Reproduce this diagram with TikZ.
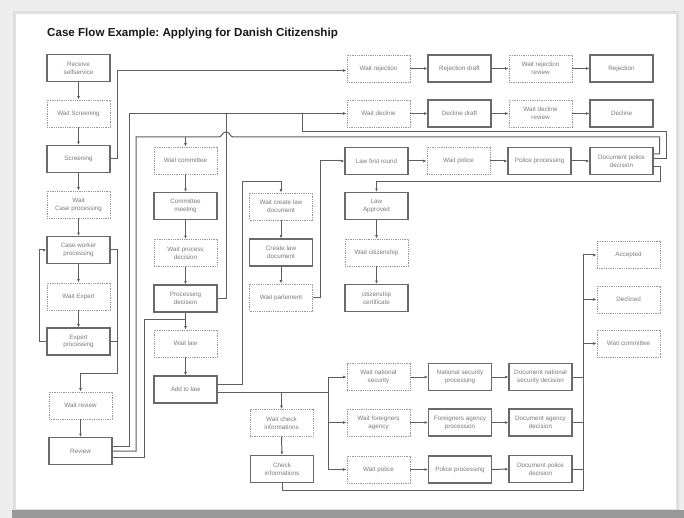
\documentclass[tikz,border=0pt]{standalone}
\usepackage{fontspec}
\setmainfont{Liberation Sans}
\frenchspacing
\usetikzlibrary{arrows.meta,calc}
\definecolor{boxc}{HTML}{6A6A6A}
\definecolor{dashc}{HTML}{969696}
\definecolor{txtc}{HTML}{7A7A7A}
\definecolor{linec}{HTML}{5E5E5E}
\definecolor{bgc}{HTML}{EDEDED}
\tikzset{
  box/.style={draw=boxc, line width=1.05pt, minimum width=63pt, minimum height=27pt, inner sep=1pt, align=center, text=txtc, font=\fontsize{6.3}{7.8}\selectfont},
  dbox/.style={box, draw=dashc, line width=0.85pt, dash pattern=on 0.9pt off 0.9pt},
  conn/.style={draw=linec, line width=1pt},
  arr/.style={conn, -{Latex[length=3.4pt,width=2.8pt]}},
}
\begin{document}
\begin{tikzpicture}[x=1pt,y=-1pt]
\useasboundingbox (0,0) rectangle (684,518);
% paper
\fill[bgc] (0,0) rectangle (684,518);
\fill[gray!25] (13,11) rectangle (679,512);
\fill[white] (16,14) rectangle (676,509);
\fill[gray!80] (12,510) rectangle (684,518);
\node[anchor=base west, font=\bfseries\fontsize{11.6}{13}\selectfont, text=black!90, inner sep=0] (title) at (47,37) {Case Flow Example: Applying for Danish Citizenship};

% column 1
\node[box]  (rs)   at (78.5,68)    {Receive\\selfservice};
\node[dbox] (wscr) at (78.5,113.5) {Wait Screening};
\node[box]  (scr)  at (78.5,159)   {Screening};
\node[dbox] (wcp)  at (78.5,204.5) {Wait\\Case processing};
\node[box]  (cwp)  at (78.5,250)   {Case worker\\processing};
\node[dbox] (wexp) at (78.5,296.5) {Wait Expert};
\node[box]  (exp)  at (78.5,341.5) {Expert\\processing};
\node[dbox] (wrev) at (80.5,405.5) {Wait review};
\node[box]  (rev)  at (80.5,451)   {Review};

% column 2
\node[dbox] (wcom) at (185.5,160.5) {Wait committee};
\node[box]  (cm)   at (185.5,206)   {Committee\\meeting};
\node[dbox] (wpd)  at (185.5,253)   {Wait process\\decision};
\node[box]  (pd)   at (185.5,298.5) {Processing\\decision};
\node[dbox] (wlaw) at (185.5,343.5) {Wait law};
\node[box]  (atl)  at (185.5,389.5) {Add to law};

% column 3
\node[dbox] (wcld)  at (281,206.5) {Wait create law\\document};
\node[box]  (cld)   at (281,252.5) {Create law\\document};
\node[dbox] (wparl) at (281,297.5) {Wait parlement};

% column 4
\node[box]  (lfr)   at (376.5,161)   {Law first round};
\node[box]  (lapp)  at (376.5,206)   {Law\\Approved};
\node[dbox] (wcit)  at (376.5,252.5) {Wait citizenship};
\node[box]  (ccert) at (376.5,298)   {citizenship\\certificate};

% top rows
\node[dbox] (wrej)  at (378.5,68.5) {Wait rejection};
\node[box]  (rejd)  at (459.5,68.5) {Rejection draft};
\node[dbox] (wrejr) at (540.5,68.5) {Wait rejection\\review};
\node[box]  (rej)   at (621.5,68.5) {Rejection};
\node[dbox] (wdec)  at (378.5,113.5) {Wait decline};
\node[box]  (decd)  at (459.5,113.5) {Decline draft};
\node[dbox] (wdecr) at (540.5,113.5) {Wait decline\\review};
\node[box]  (dec)   at (621.5,113.5) {Decline};
\node[dbox] (wpol)  at (458.5,161) {Wait police};
\node[box]  (ppr)   at (539.5,161) {Police processing};
\node[box]  (dpd)   at (621.5,161) {Document police\\decision};

% right column
\node[dbox] (acc)   at (628.5,255)   {Accepted};
\node[dbox] (decl)  at (628.5,299.5) {Declined};
\node[dbox] (wcom2) at (628.5,343.5) {Wait committee};

% bottom block
\node[dbox] (wci)   at (281.5,423)   {Wait check\\informations};
\node[box]  (ci)    at (282,469)     {Check\\informations};
\node[dbox] (wns)   at (378.5,377)   {Wait national\\security};
\node[dbox] (wfa)   at (378.5,422.5) {Wait foreigners\\agency};
\node[dbox] (wpol2) at (378.5,469.5) {Wait police};
\node[box]  (nsp)   at (460,377)     {National security\\processing};
\node[box]  (fap)   at (460,422.5)   {Foreigners agency\\procession};
\node[box]  (ppr2)  at (460,469.5)   {Police processing};
\node[box]  (dnsd)  at (540.5,377)   {Document national\\security decision};
\node[box]  (dad)   at (540.5,422.5) {Document agency\\decision};
\node[box]  (dpd2)  at (540.5,469)   {Document police\\decision};

% coordinates
\coordinate (k1) at (117,373);
\coordinate (h2) at (136,137);
\coordinate (b1) at (302,132);
\coordinate (b2) at (666,132);
\coordinate (b2i) at (659.5,137);
\coordinate (b3) at (660,182);
\coordinate (b4) at (226,113.5);
\coordinate (b5) at (144,319);
\coordinate (b6) at (242,182);
\coordinate (b7) at (328,392);
\coordinate (b8) at (583,490);

% column 1 chain
\draw[arr] (rs) -- (wscr);
\draw[arr] (wscr) -- (scr);
\draw[arr] (scr) -- (wcp);
\draw[arr] (wcp) -- (cwp);
\draw[arr] (cwp) -- (wexp);
\draw[arr] (wexp) -- (exp);
\draw[arr] (wrev) -- (rev);
\draw[arr] (exp.west) -- ++(-7,0) |- (cwp.west);
\draw[arr] (cwp.east) -| (k1) -| (wrev.north);
\draw[conn] (exp.east) -- (exp.east -| k1);
\draw[arr] (scr.east) -- ++(7,0) |- ([yshift=-2pt]wrej.west);

% review outputs
\draw[arr] ([yshift=5pt]rev.east) -- ++(17,0) |- (wdec.west);
\draw[conn] (rev.east) -| (h2) -- (219,137) .. controls (222,137) and (222,132) .. (226,132)
   .. controls (230,132) and (230,137) .. (233,137) -- (b2i) |- ([yshift=7pt]dpd.east);
\draw[arr] (wcom.north |- h2) -- (wcom.north);
\draw[conn] ([yshift=-6pt]rev.east) -| (b5) -- (b5 -| wlaw.north);

% decline loop from document police decision
\draw[conn] (b1 |- wdec.west) -- (b1) -- (b2) |- ([yshift=2pt]dpd.east);
\draw[arr] ([yshift=-5.5pt]dpd.east) -| (b3) -| (lapp.north);
\draw[conn] (pd.east) -| (b4);

% column 2 chain
\draw[arr] (wcom) -- (cm);
\draw[arr] (cm) -- (wpd);
\draw[arr] (wpd) -- (pd);
\draw[arr] (pd) -- (wlaw);
\draw[arr] (wlaw) -- (atl);

% add to law outputs
\draw[arr] ([yshift=5.5pt]atl.east) -| (b6) -| (wcld.north);
\draw[conn] ([yshift=-2.5pt]atl.east) -- (b7);
\draw[arr] (wci.north |- b7) -- (wci.north);
\draw[arr] (b7) |- (wns.west);
\draw[arr] (b7) |- (wfa.west);
\draw[arr] (b7) |- (wpol2.west);

% column 3 / 4
\draw[arr] (wcld) -- (cld);
\draw[arr] (cld) -- (wparl);
\draw[arr] (wparl.east) -- ++(8,0) |- (lfr.west);
\draw[arr] (lapp) -- (wcit);
\draw[arr] (wcit) -- (ccert);

% rows
\draw[arr] (wrej) -- (rejd);
\draw[arr] (rejd) -- (wrejr);
\draw[arr] (wrejr) -- (rej);
\draw[arr] (wdec) -- (decd);
\draw[arr] (decd) -- (wdecr);
\draw[arr] (wdecr) -- (dec);
\draw[arr] (lfr) -- (wpol);
\draw[arr] (wpol) -- (ppr);
\draw[arr] (ppr) -- (dpd);

% bottom rows
\draw[arr] (wci) -- (ci);
\draw[arr] (wns) -- (nsp);
\draw[arr] (nsp) -- (dnsd);
\draw[arr] (wfa) -- (fap);
\draw[arr] (fap) -- (dad);
\draw[arr] (wpol2) -- (ppr2);
\draw[arr] (ppr2) -- (dpd2);

% collector to outcomes
\draw[conn] (ci.south) |- (b8) -- (b8 |- acc.west);
\draw[conn] (dnsd.east) -- (dnsd.east -| b8);
\draw[conn] (dad.east) -- (dad.east -| b8);
\draw[conn] (dpd2.east) -- (dpd2.east -| b8);
\draw[arr] (b8 |- acc.west) -- (acc.west);
\draw[arr] (b8 |- decl.west) -- (decl.west);
\draw[arr] (b8 |- wcom2.west) -- (wcom2.west);
\end{tikzpicture}
\end{document}
